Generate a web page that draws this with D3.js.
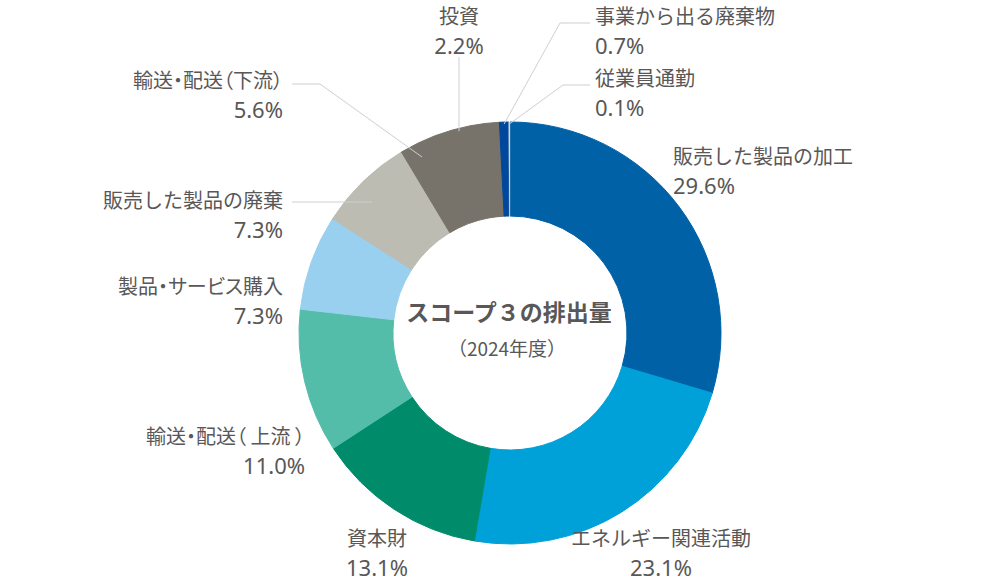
<!DOCTYPE html>
<html><head><meta charset="utf-8">
<script src="https://cdn.jsdelivr.net/npm/d3@7/dist/d3.min.js"></script>
<style>
html,body{margin:0;padding:0;background:#fff;}
text{font-family:"Noto Sans CJK JP","Noto Sans",sans-serif;fill:#595757;}
text.val{font-family:"Noto Sans","Noto Sans CJK JP",sans-serif;}
</style></head>
<body>
<svg id="chart" width="1000" height="583"></svg>
<script>
const categories = ["販売した製品の加工","エネルギー関連活動","資本財","輸送・配送（ 上流 ）","製品・サービス購入","販売した製品の廃棄","輸送・配送（下流）","投資","事業から出る廃棄物","従業員通勤"];
const values = [29.6, 23.1, 13.1, 11.0, 7.3, 7.3, 5.6, 2.2, 0.7, 0.1];
const valueLabels = ["29.6%","23.1%","13.1%","11.0%","7.3%","7.3%","5.6%","2.2%","0.7%","0.1%"];
const colors = ["#0061a7","#00a0d8","#008c6a","#53bdaa","#99d0f0","#bcbcb3","#77736b","#77736b","#00489c","#d4d8dc"];
const centerTitle = "スコープ３の排出量";
const centerSub = "（2024年度）";

// layout (positions only)
const labelLayout = [
  {x:673, y:164, anchor:"start"},
  {x:661, y:546, anchor:"middle"},
  {x:377, y:546, anchor:"middle"},
  {x:305, y:444, anchor:"end"},
  {x:283, y:294, anchor:"end"},
  {x:283, y:208, anchor:"end"},
  {x:283, y:88, anchor:"end"},
  {x:459, y:24, anchor:"middle"},
  {x:595, y:24, anchor:"start"},
  {x:595, y:86, anchor:"start"}
];
const leaders = {
  5: [[292,202],[372,202]],
  6: [[292,84],[320,84]],
  7: [[459,57],[459,57]],
  8: [[590,23],[560,23]],
  9: [[590,85],[563,85]]
};

const svg = d3.select("#chart");
const cx = 510, cy = 333, rOuter = 211, rInner = 117;
const g = svg.append("g").attr("transform", `translate(${cx},${cy})`);

const data = categories.map((c,i)=>({name:c, value:values[i], label:valueLabels[i], color:colors[i]}));
const pie = d3.pie().value(d=>d.value).sort(null).startAngle(0).endAngle(2*Math.PI);
const arcs = pie(data);
const arc = d3.arc().innerRadius(rInner).outerRadius(rOuter);

g.selectAll("path.slice").data(arcs).enter().append("path")
  .attr("class","slice")
  .attr("d", arc)
  .attr("fill", d=>d.data.color)
  .attr("stroke", d=>d.data.color)
  .attr("stroke-width", d=>d.data.value < 0.5 ? 0.3 : 1)
  .attr("stroke-linejoin","round");

// leader lines
const lineG = svg.append("g");
Object.keys(leaders).forEach(k=>{
  const i = +k;
  const a = arcs[i];
  const [p0, p1] = leaders[k];
  let pts = [p0, p1];
  if (i===6) {
    pts.push([422,157]);
  } else if (i===7) {
    const r = rOuter - 1, x = p0[0]-cx;
    pts = [p0, [p0[0], cy - Math.sqrt(r*r - x*x) + 2]];
  } else if (i===8 || i===9) {
    const ang = (a.startAngle+a.endAngle)/2, r = rOuter - 2;
    pts.push([cx + r*Math.sin(ang), cy - r*Math.cos(ang)]);
  }
  lineG.append("polyline").attr("points", pts.map(p=>p.join(",")).join(" "))
    .attr("fill","none").attr("stroke","#cfcfcf").attr("stroke-width",1);
});

// labels
const lab = svg.append("g");
data.forEach((d,i)=>{
  const L = labelLayout[i];
  const palt = /[・（]/.test(d.name);
  lab.append("text").attr("x",L.x).attr("y",L.y).attr("text-anchor",L.anchor)
    .style("font-size","20px")
    .style("font-feature-settings", palt ? '"palt"' : 'normal')
    .text(d.name);
  lab.append("text").attr("class","val").attr("x",L.x).attr("y",L.y+30).attr("text-anchor",L.anchor)
    .style("font-size","22px")
    .text(d.label);
});

// center text
svg.append("text").attr("x",cx-1).attr("y",321).attr("text-anchor","middle")
  .style("font-size","23px").style("font-weight","bold").text(centerTitle);
svg.append("text").attr("x",cx-3).attr("y",356).attr("text-anchor","middle")
  .style("font-size","19px").text(centerSub);
</script>
</body></html>
